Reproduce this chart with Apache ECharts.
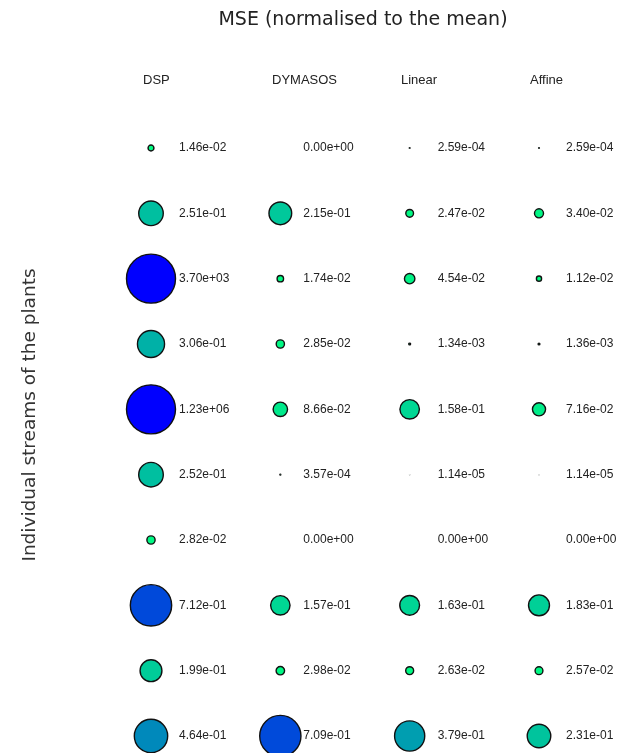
<!DOCTYPE html>
<html>
<head>
<meta charset="utf-8">
<script src="https://cdn.jsdelivr.net/npm/echarts@6/dist/echarts.min.js"></script>
<style>
  html, body { margin: 0; padding: 0; background: #ffffff; }
  #chart { width: 620px; height: 753px; }
</style>
</head>
<body>
<div id="chart"></div>
<script>
// Methods (columns) and the MSE of each stream, normalised to the mean
const methods = ['DSP', 'DYMASOS', 'Linear', 'Affine'];
const streams = ['1', '2', '3', '4', '5', '6', '7', '8', '9', '10'];

const mseDSP     = [1.46e-02, 2.51e-01, 3.70e+03, 3.06e-01, 1.23e+06, 2.52e-01, 2.82e-02, 7.12e-01, 1.99e-01, 4.64e-01];
const mseDYMASOS = [0.00e+00, 2.15e-01, 1.74e-02, 2.85e-02, 8.66e-02, 3.57e-04, 0.00e+00, 1.57e-01, 2.98e-02, 7.09e-01];
const mseLinear  = [2.59e-04, 2.47e-02, 4.54e-02, 1.34e-03, 1.58e-01, 1.14e-05, 0.00e+00, 1.63e-01, 2.63e-02, 3.79e-01];
const mseAffine  = [2.59e-04, 3.40e-02, 1.12e-02, 1.36e-03, 7.16e-02, 1.14e-05, 0.00e+00, 1.83e-01, 2.57e-02, 2.31e-01];

const seriesValues = [mseDSP, mseDYMASOS, mseLinear, mseAffine];
const labelShift = [28, 23, 28, 27];

// Scientific notation with a two-digit exponent, e.g. 1.46e-02
function sci(v) {
  const parts = v.toExponential(2).split('e');
  const exp = parseInt(parts[1], 10);
  const sign = exp < 0 ? '-' : '+';
  const digits = String(Math.abs(exp)).padStart(2, '0');
  return parts[0] + 'e' + sign + digits;
}

const chart = echarts.init(document.getElementById('chart'), null, { renderer: 'canvas' });

const series = seriesValues.map(function (vals, c) {
  return {
    type: 'scatter',
    name: methods[c],
    xAxisIndex: 0,
    yAxisIndex: 0,
    clip: false,
    data: vals.map(function (v, r) {
      // capped value drives both colour and bubble size
      return [c, r, v, Math.min(v, 1)];
    }),
    symbol: 'circle',
    symbolSize: function (d) { return 49 * Math.sqrt(d[3]); },
    itemStyle: { borderColor: '#111111', borderWidth: 1.4, opacity: 1 },
    label: {
      show: true,
      position: 'inside',
      align: 'left',
      verticalAlign: 'middle',
      offset: [labelShift[c], 0],
      color: '#222222',
      fontFamily: 'Liberation Sans, Arial, sans-serif',
      fontSize: 12,
      formatter: function (p) { return sci(p.value[2]); }
    },
    emphasis: { disabled: true }
  };
});

chart.setOption({
  animation: false,
  backgroundColor: '#ffffff',
  title: {
    text: 'MSE (normalised to the mean)',
    left: 358,
    top: 6,
    textAlign: 'center',
    textStyle: {
      fontFamily: 'DejaVu Sans, Verdana, sans-serif',
      fontSize: 19,
      fontWeight: 'normal',
      color: '#222222'
    }
  },
  grid: [
    { left: 151, right: 81, top: 94, bottom: 17 },
    { left: 143, right: 90, top: 94, height: 1 }
  ],
  visualMap: {
    show: false,
    type: 'continuous',
    dimension: 3,
    min: 0,
    max: 1,
    seriesIndex: [0, 1, 2, 3],
    inRange: { color: ['#00ff80', '#0000ff'] }
  },
  xAxis: [
    {
      type: 'category',
      gridIndex: 0,
      data: methods,
      boundaryGap: false,
      show: false
    },
    {
      type: 'category',
      gridIndex: 1,
      data: methods,
      boundaryGap: false,
      position: 'top',
      axisLine: { show: false },
      axisTick: { show: false },
      splitLine: { show: false },
      axisLabel: {
        align: 'left',
        margin: 7,
        color: '#222222',
        fontFamily: 'Liberation Sans, Arial, sans-serif',
        fontSize: 13
      }
    }
  ],
  yAxis: [
    {
      type: 'value',
      gridIndex: 0,
      inverse: true,
      min: -0.8265,
      max: 9,
      axisLine: { show: false },
      axisTick: { show: false },
      axisLabel: { show: false },
      splitLine: { show: false },
      name: 'Individual streams of the plants',
      nameLocation: 'middle',
      nameRotate: 90,
      nameGap: 111,
      nameTextStyle: {
        fontFamily: 'DejaVu Sans, Verdana, sans-serif',
        fontSize: 18.5,
        color: '#333333'
      }
    },
    {
      type: 'value',
      gridIndex: 1,
      show: false
    }
  ],
  series: series
});
</script>
</body>
</html>
